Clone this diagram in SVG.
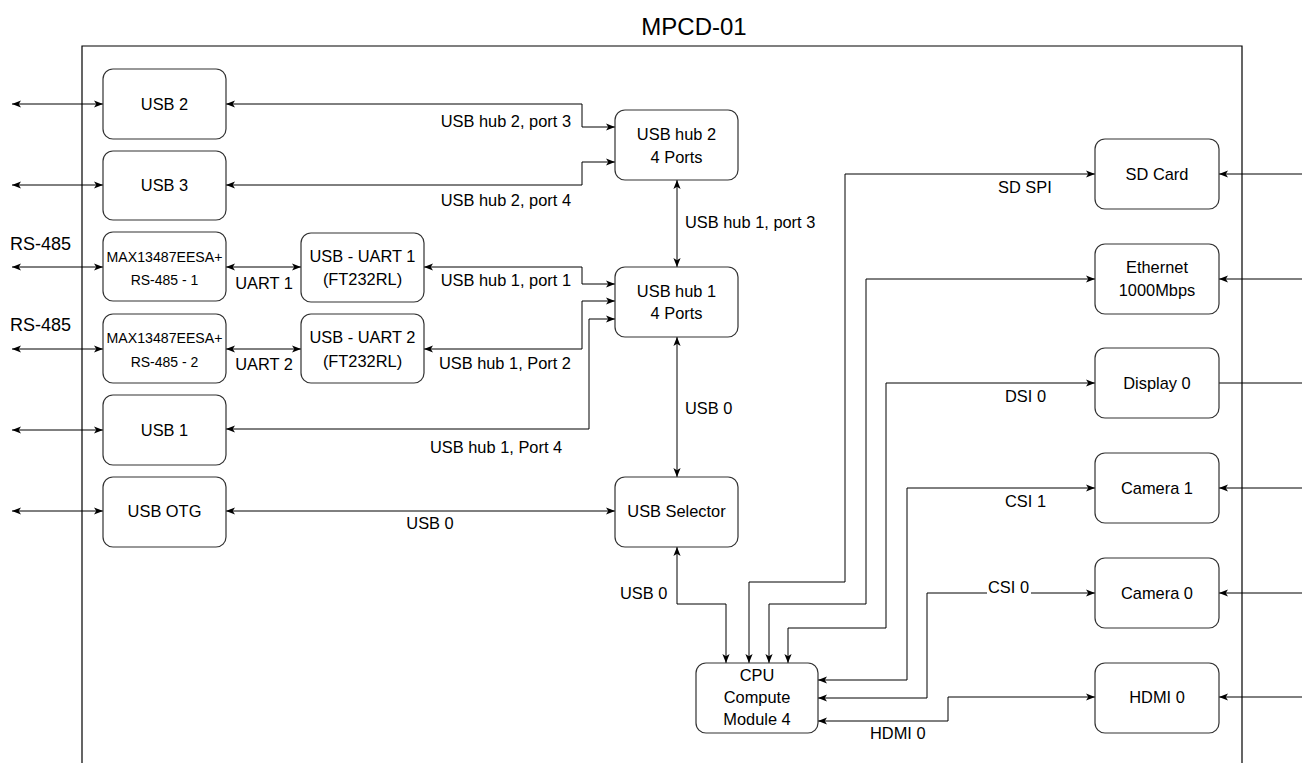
<svg xmlns="http://www.w3.org/2000/svg" width="1302" height="763" viewBox="0 0 1302 763">
<style>
text{font-family:"Liberation Sans",Arial,sans-serif;fill:#000;}
.t{font-size:16.4px;text-anchor:middle;}
.s{font-size:14px;text-anchor:middle;}
.l{font-size:16.4px;}
.box{fill:#fff;stroke:#333;stroke-width:1.2;}
.c{fill:none;stroke:#000;stroke-width:1;}
</style>
<defs>
<marker id="a" viewBox="0 0 10 10" refX="10" refY="5" markerWidth="9" markerHeight="9" markerUnits="userSpaceOnUse" orient="auto-start-reverse">
<path d="M0,1 L10,5 L0,9 L2.5,5 z" fill="#000"/>
</marker>
</defs>
<rect width="1302" height="763" fill="#fff"/>
<g id="frame">
<path d="M82,763 V46 H1242 V763" fill="none" stroke="#000" stroke-width="1.2"/>
<text x="694" y="35" style="font-size:24px;text-anchor:middle">MPCD-01</text>
<text x="10" y="250" style="font-size:18px">RS-485</text>
<text x="10" y="331" style="font-size:18px">RS-485</text>
</g>
<g id="connectors">
<path class="c" d="M12,104 H103" marker-start="url(#a)" marker-end="url(#a)"/>
<path class="c" d="M12,185 H103" marker-start="url(#a)" marker-end="url(#a)"/>
<path class="c" d="M12,267 H103" marker-start="url(#a)" marker-end="url(#a)"/>
<path class="c" d="M12,349 H103" marker-start="url(#a)" marker-end="url(#a)"/>
<path class="c" d="M12,430 H103" marker-start="url(#a)" marker-end="url(#a)"/>
<path class="c" d="M12,511 H103" marker-start="url(#a)" marker-end="url(#a)"/>
<path class="c" d="M226,267 H301" marker-start="url(#a)" marker-end="url(#a)"/>
<path class="c" d="M226,349 H301" marker-start="url(#a)" marker-end="url(#a)"/>
<path class="c" d="M226,104 H582 V127 H615" marker-start="url(#a)" marker-end="url(#a)"/>
<path class="c" d="M226,185 H582 V162 H615" marker-start="url(#a)" marker-end="url(#a)"/>
<path class="c" d="M424,267 H582 V284 H615" marker-start="url(#a)" marker-end="url(#a)"/>
<path class="c" d="M424,349 H582 V301 H615" marker-start="url(#a)" marker-end="url(#a)"/>
<path class="c" d="M226,429 H589 V319 H615" marker-start="url(#a)" marker-end="url(#a)"/>
<path class="c" d="M226,511 H615" marker-start="url(#a)" marker-end="url(#a)"/>
<path class="c" d="M677,180 V267" marker-start="url(#a)" marker-end="url(#a)"/>
<path class="c" d="M677,337 V477" marker-start="url(#a)" marker-end="url(#a)"/>
<path class="c" d="M677,547 V604 H726 V663" marker-start="url(#a)" marker-end="url(#a)"/>
<path class="c" d="M749,663 V582 H845 V174 H1095" marker-start="url(#a)" marker-end="url(#a)"/>
<path class="c" d="M769,663 V604 H866 V279 H1095" marker-start="url(#a)" marker-end="url(#a)"/>
<path class="c" d="M788,663 V628 H886 V383 H1095" marker-start="url(#a)" marker-end="url(#a)"/>
<path class="c" d="M818,680 H907 V488 H1095" marker-start="url(#a)" marker-end="url(#a)"/>
<path class="c" d="M818,698 H927 V593 H1095" marker-start="url(#a)" marker-end="url(#a)"/>
<path class="c" d="M818,721 H948 V697 H1095" marker-start="url(#a)" marker-end="url(#a)"/>
<path class="c" d="M1302,174 H1219" marker-end="url(#a)"/>
<path class="c" d="M1302,279 H1219" marker-end="url(#a)"/>
<path class="c" d="M1219,383 H1302"/>
<path class="c" d="M1302,488 H1219" marker-end="url(#a)"/>
<path class="c" d="M1302,593 H1219" marker-end="url(#a)"/>
<path class="c" d="M1302,697 H1219" marker-end="url(#a)"/>
<text class="l" x="571" y="127" text-anchor="end">USB hub 2, port 3</text>
<text class="l" x="571" y="206" text-anchor="end">USB hub 2, port 4</text>
<text class="l" x="571" y="286" text-anchor="end">USB hub 1, port 1</text>
<text class="l" x="571" y="369" text-anchor="end">USB hub 1, Port 2</text>
<text class="l" x="430" y="453">USB hub 1, Port 4</text>
<text class="l" x="264" y="289" text-anchor="middle">UART 1</text>
<text class="l" x="264" y="370" text-anchor="middle">UART 2</text>
<text class="l" x="430" y="529" text-anchor="middle">USB 0</text>
<text class="l" x="685" y="228">USB hub 1, port 3</text>
<text class="l" x="685" y="414">USB 0</text>
<text class="l" x="620" y="599">USB 0</text>
<text class="l" x="998" y="193">SD SPI</text>
<text class="l" x="1005" y="402">DSI 0</text>
<text class="l" x="1005" y="507">CSI 1</text>
<rect x="987" y="582" width="44" height="14" fill="#fff"/>
<text class="l" x="988" y="593">CSI 0</text>
<text class="l" x="870" y="739">HDMI 0</text>
</g>
<g id="usb2"><rect class="box" x="103" y="69" width="123" height="70" rx="10"/><text class="t" x="164.5" y="110">USB 2</text></g>
<g id="usb3"><rect class="box" x="103" y="151" width="123" height="69" rx="10"/><text class="t" x="164.5" y="191">USB 3</text></g>
<g id="max1"><rect class="box" x="103" y="232" width="123" height="69" rx="10"/><text class="s" x="164.5" y="262" textLength="116" lengthAdjust="spacingAndGlyphs">MAX13487EESA+</text><text class="s" x="164.5" y="285">RS-485 - 1</text></g>
<g id="max2"><rect class="box" x="103" y="314" width="123" height="69" rx="10"/><text class="s" x="164.5" y="343" textLength="116" lengthAdjust="spacingAndGlyphs">MAX13487EESA+</text><text class="s" x="164.5" y="367">RS-485 - 2</text></g>
<g id="usb1"><rect class="box" x="103" y="395" width="123" height="70" rx="10"/><text class="t" x="164.5" y="436">USB 1</text></g>
<g id="usbotg"><rect class="box" x="103" y="477" width="123" height="70" rx="10"/><text class="t" x="164.5" y="517">USB OTG</text></g>
<g id="uart1"><rect class="box" x="301" y="233" width="123" height="69" rx="10"/><text class="t" x="362.5" y="262">USB - UART 1</text><text class="t" x="362.5" y="285">(FT232RL)</text></g>
<g id="uart2"><rect class="box" x="301" y="314" width="123" height="69" rx="10"/><text class="t" x="362.5" y="343">USB - UART 2</text><text class="t" x="362.5" y="367">(FT232RL)</text></g>
<g id="hub2"><rect class="box" x="615" y="110" width="123" height="70" rx="10"/><text class="t" x="676.5" y="140">USB hub 2</text><text class="t" x="676.5" y="163">4 Ports</text></g>
<g id="hub1"><rect class="box" x="615" y="267" width="123" height="70" rx="10"/><text class="t" x="676.5" y="297">USB hub 1</text><text class="t" x="676.5" y="319">4 Ports</text></g>
<g id="selector"><rect class="box" x="615" y="477" width="123" height="70" rx="10"/><text class="t" x="676.5" y="517">USB Selector</text></g>
<g id="cpu"><rect class="box" x="696" y="663" width="122" height="70" rx="10"/><text class="t" x="757" y="681">CPU</text><text class="t" x="757" y="703">Compute</text><text class="t" x="757" y="725">Module 4</text></g>
<g id="sdcard"><rect class="box" x="1095" y="139" width="124" height="70" rx="10"/><text class="t" x="1157" y="180">SD Card</text></g>
<g id="ethernet"><rect class="box" x="1095" y="244" width="124" height="70" rx="10"/><text class="t" x="1157" y="273">Ethernet</text><text class="t" x="1157" y="296">1000Mbps</text></g>
<g id="display0"><rect class="box" x="1095" y="348" width="124" height="70" rx="10"/><text class="t" x="1157" y="389">Display 0</text></g>
<g id="camera1"><rect class="box" x="1095" y="453" width="124" height="70" rx="10"/><text class="t" x="1157" y="494">Camera 1</text></g>
<g id="camera0"><rect class="box" x="1095" y="558" width="124" height="70" rx="10"/><text class="t" x="1157" y="599">Camera 0</text></g>
<g id="hdmi0"><rect class="box" x="1095" y="663" width="124" height="70" rx="10"/><text class="t" x="1157" y="703">HDMI 0</text></g>
</svg>
